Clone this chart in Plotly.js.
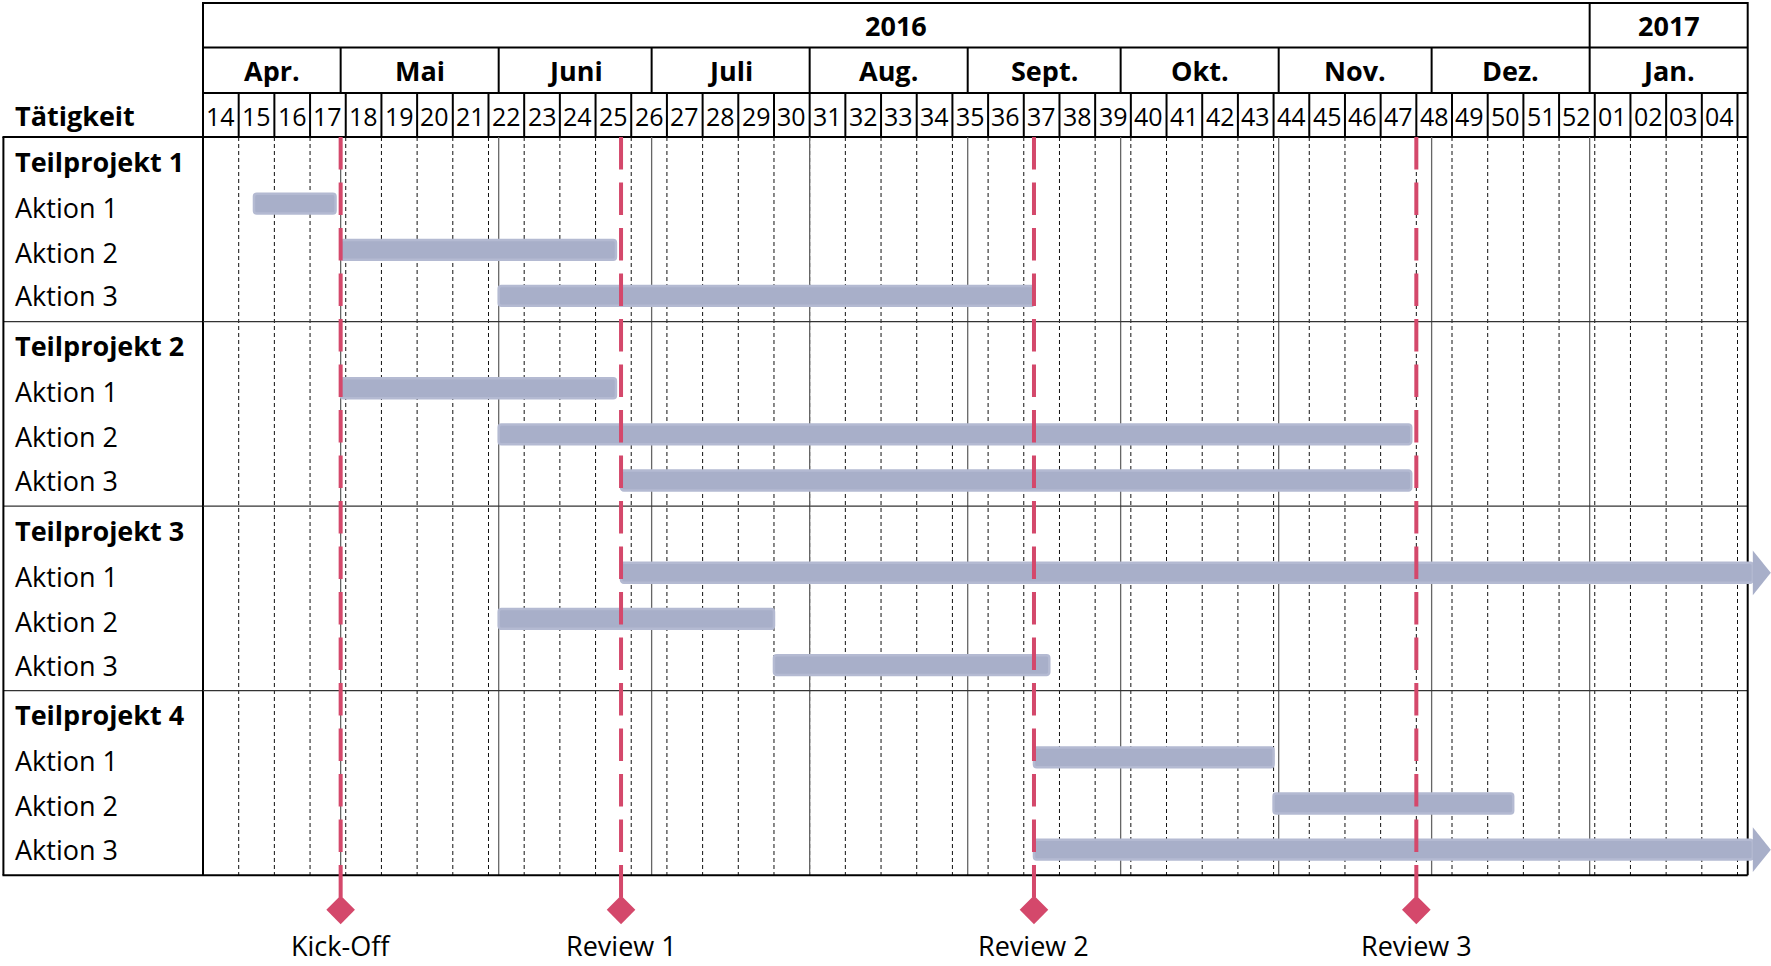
<!DOCTYPE html>
<html>
<head>
<meta charset="utf-8">
<script src="https://cdn.plot.ly/plotly-3.0.1.min.js"></script>
<style>
html,body{margin:0;padding:0;background:#fff;}
#chart{width:1771px;height:966px;}
</style>
</head>
<body>
<div id="chart"></div>
<script>
// ---------------- DATA ----------------
const groupNames = ['Teilprojekt 1', 'Teilprojekt 2', 'Teilprojekt 3', 'Teilprojekt 4'];
const taskNames  = ['Aktion 1', 'Aktion 2', 'Aktion 3',
                    'Aktion 1', 'Aktion 2', 'Aktion 3',
                    'Aktion 1', 'Aktion 2', 'Aktion 3',
                    'Aktion 1', 'Aktion 2', 'Aktion 3'];
const taskGroups = [0, 0, 0, 1, 1, 1, 2, 2, 2, 3, 3, 3];
const taskStarts = ['2016-04-14', '2016-05-01', '2016-06-01',
                    '2016-05-01', '2016-06-01', '2016-06-25',
                    '2016-06-25', '2016-06-01', '2016-07-25',
                    '2016-09-14', '2016-10-31', '2016-09-14'];
const taskEnds   = ['2016-04-30', '2016-06-24', '2016-09-14',
                    '2016-06-24', '2016-11-27', '2016-11-27',
                    '2017-02-02', '2016-07-25', '2016-09-17',
                    '2016-10-31', '2016-12-17', '2017-02-02'];
const taskContinues = [false, false, false, false, false, false, true, false, false, false, false, true];

const milestoneNames = ['Kick-Off', 'Review 1', 'Review 2', 'Review 3'];
const milestoneDates = ['2016-05-01', '2016-06-25', '2016-09-14', '2016-11-28'];

const yearLabels  = ['2016', '2017'];
const yearStarts  = ['2016-01-01', '2017-01-01'];
const monthLabels = ['Apr.', 'Mai', 'Juni', 'Juli', 'Aug.', 'Sept.', 'Okt.', 'Nov.', 'Dez.', 'Jan.'];
const monthStarts = ['2016-04-01', '2016-05-01', '2016-06-01', '2016-07-01', '2016-08-01',
                     '2016-09-01', '2016-10-01', '2016-11-01', '2016-12-01', '2017-01-01'];
const weekLabels  = ['14','15','16','17','18','19','20','21','22','23','24','25','26','27','28','29','30',
                     '31','32','33','34','35','36','37','38','39','40','41','42','43','44','45','46','47',
                     '48','49','50','51','52','01','02','03','04'];
const viewStart = '2016-04-04';   // Monday of week 14
const viewEnd   = '2017-02-01';   // right border of the timeline

// ---------------- LAYOUT CONSTANTS ----------------
const W = 1771, H = 966, ML = 203, MR = 0, MT = 137, MB = 0;
const VIEW_END_PX = 1747.7;
const HEADER_TOP_PX = 3, YEAR_BOTTOM_PX = 47.5, MONTH_BOTTOM_PX = 93;
const ROW_PX = 46.14;
const LABEL_BOX_LEFT_PX = 3.4, LABEL_TEXT_PX = 12.5;
const ROW_TEXT_YSHIFT = [-1, -1, 0.2, 2.5];   // small vertical tweaks per row in a group (px)
const FONT = '"Open Sans", "Noto Sans", sans-serif';
const RED = '#d4486b', BAR = '#a8afc9', BAR_EDGE = '#b4bad2';

const DAY = 86400000;
const ms = d => Date.parse(d.length === 10 ? d + 'T00:00:00Z' : d.replace(' ', 'T') + 'Z');
const ds = t => new Date(t).toISOString().slice(0, 19).replace('T', ' ');

const viewDays = (ms(viewEnd) - ms(viewStart)) / DAY;
const pxPerDay = (VIEW_END_PX - ML) / viewDays;
const axisEnd = ds(ms(viewStart) + (W - ML - MR) / pxPerDay * DAY);

const nRows = groupNames.length * 4;
const yTop = -0.5, yBodyBottom = nRows - 0.5;
const yRangeBottom = yTop + (H - MT - MB) / ROW_PX;
const P  = Y => (H - MB - Y) / (H - MT - MB);      // paper y from pixel
const LX = X => (X - ML) / (W - ML - MR);          // paper x from pixel

// rows
const groupRows = groupNames.map((g, i) => i * 4);
const counters = groupNames.map(() => 0);
const taskSlot = taskGroups.map(g => 1 + (counters[g]++));
const taskRows = taskGroups.map((g, i) => groupRows[g] + taskSlot[i]);

const weekStarts = weekLabels.map((w, i) => ds(ms(viewStart) + i * 7 * DAY));
const weekBounds = weekLabels.map((w, i) => ds(ms(viewStart) + (i + 1) * 7 * DAY));

// ---------------- TRACES ----------------
const BAR_W = 0.43, BAR_OFF = -0.27;
const barTrace = {
  type: 'bar', orientation: 'h',
  y: taskRows,
  base: taskStarts,
  x: taskStarts.map((s, i) => ms(taskEnds[i]) - ms(s)),
  width: BAR_W,
  offset: BAR_OFF,
  marker: {color: BAR, line: {color: BAR_EDGE, width: 2.5}, cornerradius: 3},
  hoverinfo: 'skip', showlegend: false
};
const MS_Y = 16.25, MS_LABEL_Y = 17.03;
const diamondTrace = {
  type: 'scatter', mode: 'markers',
  x: milestoneDates, y: milestoneDates.map(() => MS_Y),
  marker: {symbol: 'diamond', size: 22, color: RED, line: {width: 0}},
  cliponaxis: false, hoverinfo: 'skip', showlegend: false
};

// ---------------- SHAPES ----------------
const shapes = [];
const ln = o => shapes.push(Object.assign({type: 'line', layer: 'below', line: {color: '#000', width: 2}}, o));

// body grid: week dashed lines
weekBounds.forEach(d => ln({xref: 'x', yref: 'y', x0: d, x1: d, y0: yTop, y1: yBodyBottom,
  line: {color: '#111', width: 1, dash: '4px,3px'}}));
// body month lines
const innerMonths = monthStarts.filter(d => ms(d) > ms(viewStart) && ms(d) < ms(viewEnd));
innerMonths.forEach(d => ln({xref: 'x', yref: 'y', x0: d, x1: d, y0: yTop, y1: yBodyBottom,
  line: {color: '#666', width: 1.3}}));
// group separators
groupRows.slice(1).forEach(r => {
  ln({xref: 'paper', yref: 'y', x0: LX(LABEL_BOX_LEFT_PX), x1: 0, y0: r - 0.5, y1: r - 0.5, line: {color: '#333', width: 1.3}});
  ln({xref: 'x', yref: 'y', x0: viewStart, x1: viewEnd, y0: r - 0.5, y1: r - 0.5, line: {color: '#333', width: 1.3}});
});
// body borders
ln({xref: 'paper', yref: 'y', x0: 0, x1: 0, y0: yTop, y1: yBodyBottom});
ln({xref: 'paper', yref: 'y', x0: LX(LABEL_BOX_LEFT_PX), x1: LX(LABEL_BOX_LEFT_PX), y0: yTop, y1: yBodyBottom});
ln({xref: 'x', yref: 'y', x0: viewEnd, x1: viewEnd, y0: yTop, y1: yBodyBottom});
ln({xref: 'paper', yref: 'y', x0: LX(LABEL_BOX_LEFT_PX) - 0.0006, x1: 0, y0: yBodyBottom, y1: yBodyBottom});
ln({xref: 'x', yref: 'y', x0: viewStart, x1: viewEnd, y0: yBodyBottom, y1: yBodyBottom});
ln({xref: 'paper', yref: 'paper', x0: LX(LABEL_BOX_LEFT_PX) - 0.0006, x1: 0, y0: 1, y1: 1});

// header horizontals
[HEADER_TOP_PX, YEAR_BOTTOM_PX, MONTH_BOTTOM_PX].forEach(Y =>
  ln({xref: 'x', yref: 'paper', x0: viewStart, x1: viewEnd, y0: P(Y), y1: P(Y)}));
ln({xref: 'x', yref: 'paper', x0: viewStart, x1: viewEnd, y0: 1, y1: 1});
// header verticals
ln({xref: 'paper', yref: 'paper', x0: 0, x1: 0, y0: 1, y1: P(HEADER_TOP_PX) + 0.0012});
ln({xref: 'x', yref: 'paper', x0: viewEnd, x1: viewEnd, y0: 1, y1: P(HEADER_TOP_PX) + 0.0012});
yearStarts.filter(d => ms(d) > ms(viewStart) && ms(d) < ms(viewEnd)).forEach(d =>
  ln({xref: 'x', yref: 'paper', x0: d, x1: d, y0: P(YEAR_BOTTOM_PX), y1: P(HEADER_TOP_PX)}));
innerMonths.forEach(d =>
  ln({xref: 'x', yref: 'paper', x0: d, x1: d, y0: P(MONTH_BOTTOM_PX), y1: P(YEAR_BOTTOM_PX)}));
weekBounds.forEach(d =>
  ln({xref: 'x', yref: 'paper', x0: d, x1: d, y0: 1, y1: P(MONTH_BOTTOM_PX)}));

// milestone lines (above bars)
milestoneDates.forEach(d => shapes.push({type: 'line', layer: 'above', xref: 'x', yref: 'y',
  x0: d, x1: d, y0: yTop, y1: MS_Y, line: {color: RED, width: 4, dash: '32.5px,13px'}}));

// arrow heads for continuing tasks
taskEnds.forEach((d, i) => {
  if (!taskContinues[i]) return;
  shapes.push({type: 'path', layer: 'above', xref: 'x', yref: 'y',
    xsizemode: 'pixel', ysizemode: 'pixel', xanchor: d, yanchor: taskRows[i] + BAR_OFF + BAR_W / 2,
    path: 'M0,-22.4 L18,0 L0,22.4 Z', fillcolor: BAR, line: {width: 0}});
});

// ---------------- ANNOTATIONS ----------------
const ann = [];
const txt = (o, size, bold) => ann.push(Object.assign({showarrow: false,
  font: {family: FONT, size: size, color: '#000', weight: bold ? 700 : 400}}, o));

const clampMid = (a, b) => {
  const s = Math.max(ms(a), ms(viewStart)), e = Math.min(ms(b), ms(viewEnd));
  return ds((s + e) / 2);
};
yearLabels.forEach((y, i) => {
  const next = i + 1 < yearStarts.length ? yearStarts[i + 1] : viewEnd;
  txt({xref: 'x', yref: 'paper', x: clampMid(yearStarts[i], next), y: P(26), text: y, yanchor: 'middle'}, 27, true);
});
monthLabels.forEach((m, i) => {
  const next = i + 1 < monthStarts.length ? monthStarts[i + 1] : viewEnd;
  txt({xref: 'x', yref: 'paper', x: clampMid(monthStarts[i], next), y: P(70.5), text: m, yanchor: 'middle'}, 27, true);
});
weekLabels.forEach((w, i) => {
  txt({xref: 'x', yref: 'paper', x: ds(ms(weekStarts[i]) + 3.5 * DAY), y: P(116), text: w, yanchor: 'middle'}, 25, false);
});
txt({xref: 'paper', yref: 'paper', x: LX(LABEL_TEXT_PX), y: P(115), text: 'Tätigkeit', xanchor: 'left', yanchor: 'middle'}, 27, true);
groupNames.forEach((g, i) =>
  txt({xref: 'paper', yref: 'y', x: LX(LABEL_TEXT_PX), y: groupRows[i], text: g, xanchor: 'left', yanchor: 'middle', yshift: ROW_TEXT_YSHIFT[0]}, 27, true));
taskNames.forEach((t, i) =>
  txt({xref: 'paper', yref: 'y', x: LX(LABEL_TEXT_PX), y: taskRows[i], text: t, xanchor: 'left', yanchor: 'middle', yshift: ROW_TEXT_YSHIFT[taskSlot[i]]}, 27, false));
milestoneNames.forEach((m, i) =>
  txt({xref: 'x', yref: 'y', x: milestoneDates[i], y: MS_LABEL_Y, text: m, yanchor: 'middle'}, 27, false));

// ---------------- LAYOUT ----------------
const layout = {
  width: W, height: H,
  margin: {l: ML, r: MR, t: MT, b: MB, pad: 0},
  paper_bgcolor: '#fff', plot_bgcolor: 'rgba(0,0,0,0)',
  font: {family: FONT, color: '#000'},
  showlegend: false,
  bargap: 0,
  xaxis: {type: 'date', range: [viewStart, axisEnd], showgrid: false, zeroline: false,
          showticklabels: false, ticks: '', showline: false, fixedrange: true},
  yaxis: {type: 'linear', range: [yRangeBottom, yTop], showgrid: false, zeroline: false,
          showticklabels: false, ticks: '', showline: false, fixedrange: true},
  shapes: shapes,
  annotations: ann
};

Plotly.newPlot('chart', [barTrace, diamondTrace], layout, {displayModeBar: false, staticPlot: true});
</script>
</body>
</html>
